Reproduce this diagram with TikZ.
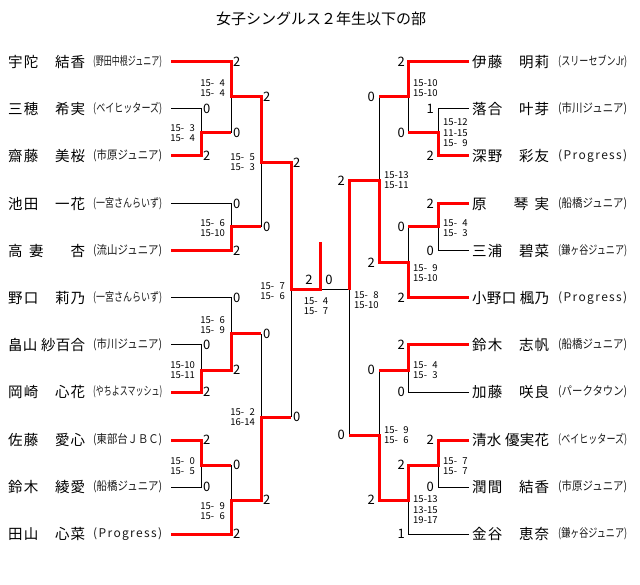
\documentclass[tikz,border=0pt]{standalone}
\usepackage{fontspec}
\usepackage{graphicx}
\usepackage{xcolor}
\setmainfont{Noto Sans CJK JP}
\newcommand\zsp{\phantom{口}}
\newcommand\tgap{\hspace{3pt}}
\newcommand\fs{\phantom{0}}
\def\spreadloop#1{\ifx\relax#1\else#1\expandafter\spreadnext\fi}
\def\spreadnext#1{\ifx\relax#1\else\hfil#1\expandafter\spreadnext\fi}
\newcommand\pname[1]{\makebox[77pt][s]{\expandafter\spreadloop#1\relax}}
\newcommand\club[1]{\resizebox{69pt}{\height}{(#1)}}
\newcommand\clubsp[1]{\makebox[69pt][s]{\spreadloop(#1)\relax}}

\begin{document}
\begin{tikzpicture}[x=1pt, y=-1pt,
    win/.style={red, line width=3pt},
    lose/.style={black, line width=1pt},
    ptl/.style={anchor=west, inner sep=0pt, font=\fontsize{13}{13}\selectfont},
    ptr/.style={anchor=east, inner sep=0pt, font=\fontsize{13}{13}\selectfont},
    gsl/.style={anchor=east, align=right, inner sep=0pt, font=\fontsize{9.5}{10.5}\selectfont},
    gsr/.style={anchor=west, align=left, inner sep=0pt, font=\fontsize{9.5}{10.5}\selectfont},
    pn/.style={anchor=west, inner sep=0pt, font=\fontsize{14.5}{15}\selectfont},
    pc/.style={anchor=west, inner sep=0pt, text=black!90, font=\fontsize{12}{12}\selectfont}]
    \useasboundingbox (0, 0) rectangle (640, 585);
    \node[font=\fontsize{15}{15}\selectfont] (title) at (321, 19) {女子シングルス２年生以下の部};

    \foreach \i/\y/\nm/\cl in {1/62/宇陀\zsp 結香/\club{野田中根ジュニア}, 2/109/三穂\zsp 希実/\club{ベイヒッターズ}, 3/156/齋藤\zsp 美桜/\club{市原ジュニア}, 4/204/池田\zsp 一花/\club{一宮さんらいず}, 5/251/高妻\zsp 杏/\club{流山ジュニア}, 6/298/野口\zsp 莉乃/\club{一宮さんらいず}, 7/345/畠山\tgap 紗百合/\club{市川ジュニア}, 8/392/岡崎\zsp 心花/\club{やちよスマッシュ}, 9/440/佐藤\zsp 愛心/\club{東部台ＪＢＣ}, 10/487/鈴木\zsp 綾愛/\club{船橋ジュニア}, 11/534/田山\zsp 心菜/\clubsp{Progress}} {
        \node[pn] (pl\i) at (8, \y) {\pname{\nm}};
        \node[pc] (cl\i) at (93, \y) {\cl};
        \coordinate (al\i) at (171, \y);
    }
    \foreach \i/\y/\nm/\cl in {1/62/伊藤\zsp 明莉/\club{スリーセブンJr}, 2/109/落合\zsp 叶芽/\club{市川ジュニア}, 3/156/深野\zsp 彩友/\clubsp{Progress}, 4/204/原\zsp 琴実/\club{船橋ジュニア}, 5/251/三浦\zsp 碧菜/\club{鎌ヶ谷ジュニア}, 6/298/小野口\tgap 楓乃/\clubsp{Progress}, 7/345/鈴木\zsp 志帆/\club{船橋ジュニア}, 8/392/加藤\zsp 咲良/\club{パークタウン}, 9/440/清水\tgap 優実花/\club{ベイヒッターズ}, 10/487/潤間\zsp 結香/\club{市原ジュニア}, 11/534/金谷\zsp 恵奈/\club{鎌ヶ谷ジュニア}} {
        \node[pn] (pr\i) at (472, \y) {\pname{\nm}};
        \node[pc] (cr\i) at (558, \y) {\cl};
        \coordinate (ar\i) at (469, \y);
    }

    \coordinate (m1) at (201, 133);
    \coordinate (m2) at (231, 97);
    \coordinate (m3) at (231, 227);
    \coordinate (m4) at (261, 163);
    \coordinate (m5) at (201, 370);
    \coordinate (m6) at (231, 334);
    \coordinate (m7) at (201, 465);
    \coordinate (m8) at (231, 500);
    \coordinate (m9) at (261, 417);
    \coordinate (m10) at (291, 290);
    \coordinate (fin) at (320, 290);
    \coordinate (cup) at (320, 242);
    \coordinate (m11) at (349, 290);
    \coordinate (m12) at (379, 181);
    \coordinate (m13) at (408, 97);
    \coordinate (m14) at (438, 133);
    \coordinate (m15) at (438, 227);
    \coordinate (m16) at (408, 263);
    \coordinate (m17) at (408, 370);
    \coordinate (m18) at (379, 435);
    \coordinate (m19) at (438, 465);
    \coordinate (m20) at (408, 500);

    \draw[lose] (al2) -| (m1);
    \draw[lose] (m2) -- (m1 -| m2);
    \draw[lose] (al4) -| (m3);
    \draw[lose] (m4) -- (m3 -| m4);
    \draw[lose] (al6) -| (m6);
    \draw[lose] (al7) -| (m5);
    \draw[lose] (al10) -| (m7);
    \draw[lose] (m8) -- (m7 -| m8);
    \draw[lose] (m9) -- (m6 -| m9);
    \draw[lose] (m10) -- (m9 -| m10);
    \draw[lose] (fin) -- (m11);
    \draw[lose] (ar2) -| (m14);
    \draw[lose] (m13) -- (m14 -| m13);
    \draw[lose] (m12) -- (m13 -| m12);
    \draw[lose] (ar5) -| (m15);
    \draw[lose] (m16) -- (m15 -| m16);
    \draw[lose] (m11) -- (m18 -| m11);
    \draw[lose] (ar8) -| (m17);
    \draw[lose] (m18) -- (m17 -| m18);
    \draw[lose] (ar10) -| (m19);
    \draw[lose] (ar11) -| (m20);

    \draw[win] (al1) -| (m2) -| (m4) -| (m10) -- (fin) -- (cup);
    \draw[win] (al3) -| (m1) -- (m1 -| m2);
    \draw[win] (al5) -| (m3) -- (m3 -| m4);
    \draw[win] (al8) -| (m5) -| (m6) -- (m6 -| m9);
    \draw[win] (al9) -| (m7) -- (m7 -| m8);
    \draw[win] (al11) -| (m8) -| (m9) -- (m9 -| m10);
    \draw[win] (ar6) -| (m16) -| (m12) -| (m11);
    \draw[win] (ar1) -| (m13) -- (m13 -| m12);
    \draw[win] (ar3) -| (m14) -- (m14 -| m13);
    \draw[win] (ar4) -| (m15) -- (m15 -| m16);
    \draw[win] (ar7) -| (m17) -- (m17 -| m18);
    \draw[win] (ar9) -| (m19) -| (m20) -| (m18) -- (m18 -| m11);

    \foreach \x/\y/\s [count=\k] in {233/62/2, 203/109/0, 203/156/2, 233/133/0, 233/204/0, 233/251/2, 263/97/2, 263/227/0, 293/163/2, 293/417/0, 233/298/0, 203/345/0, 203/392/2, 233/370/2, 263/334/0, 263/500/2, 203/440/2, 203/487/0, 233/465/0, 233/534/2}
        \node[ptl] (sl\k) at (\x, \y) {\s};
    \foreach \x/\y/\s [count=\k] in {405/62/2, 434/109/1, 434/156/2, 405/133/0, 375/97/0, 375/263/2, 345/181/2, 345/435/0, 434/204/2, 434/251/0, 405/227/0, 405/298/2, 405/345/2, 405/392/0, 375/370/0, 375/500/2, 434/440/2, 434/487/0, 405/465/2, 405/534/1}
        \node[ptr] (sr\k) at (\x, \y) {\s};
    \node[font=\fontsize{13}{13}\selectfont] (fl) at (309, 280) {2};
    \node[font=\fontsize{13}{13}\selectfont] (fr) at (329, 280) {0};

    \node[gsl] (g1) at (195, 133) {15-\fs3\\15-\fs4};
    \node[gsl] (g2) at (225, 88) {15-\fs4\\15-\fs4};
    \node[gsl] (g3) at (225, 228) {15-\fs6\\15-10};
    \node[gsl] (g4) at (255, 162) {15-\fs5\\15-\fs3};
    \node[gsl] (g5) at (195, 370) {15-10\\15-11};
    \node[gsl] (g6) at (225, 325) {15-\fs6\\15-\fs9};
    \node[gsl] (g7) at (195, 466) {15-\fs0\\15-\fs5};
    \node[gsl] (g8) at (225, 511) {15-\fs9\\15-\fs6};
    \node[gsl] (g9) at (255, 417) {15-\fs2\\16-14};
    \node[gsl] (g10) at (285, 291) {15-\fs7\\15-\fs6};
    \node[align=left, inner sep=0pt, font=\fontsize{9.5}{10.5}\selectfont] (gf) at (316, 306) {15-\fs4\\15-\fs7};
    \node[gsr] (g11) at (354, 300) {15-\fs8\\15-10};
    \node[gsr] (g12) at (384, 180) {15-13\\15-11};
    \node[gsr] (g13) at (413, 88) {15-10\\15-10};
    \node[gsr] (g14) at (443, 133) {15-12\\11-15\\15-\fs9};
    \node[gsr] (g15) at (443, 228) {15-\fs4\\15-\fs3};
    \node[gsr] (g16) at (413, 273) {15-\fs9\\15-10};
    \node[gsr] (g17) at (413, 370) {15-\fs4\\15-\fs3};
    \node[gsr] (g18) at (384, 435) {15-\fs9\\15-\fs6};
    \node[gsr] (g19) at (443, 466) {15-\fs7\\15-\fs7};
    \node[gsr] (g20) at (413, 510) {15-13\\13-15\\19-17};
\end{tikzpicture}
\end{document}
